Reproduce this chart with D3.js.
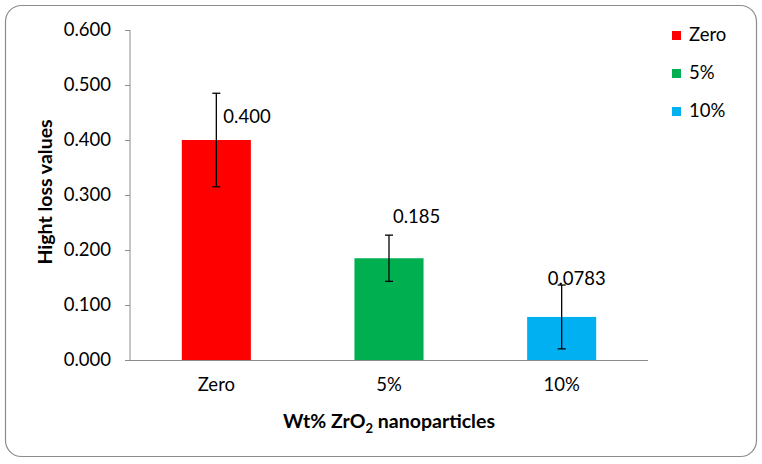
<!DOCTYPE html>
<html><head><meta charset="utf-8">
<script src="https://cdn.jsdelivr.net/npm/d3@7"></script>
<style>body{margin:0;background:#fff}svg{display:block}</style>
</head><body>
<script>
const categories = ["Zero", "5%", "10%"];
const values = [0.400, 0.185, 0.0783];
const errors = [0.085, 0.042, 0.058];
const labels = ["0.400", "0.185", "0.0783"];
const colors = ["#FF0000", "#00B050", "#00B0F0"];
const yTicks = [0, 0.1, 0.2, 0.3, 0.4, 0.5, 0.6];

const W = 762, H = 464;
const font = "Lato, 'Open Sans', sans-serif";
const fs = 18.5;
const svg = d3.select("body").append("svg").attr("width", W).attr("height", H);

svg.append("rect").attr("x", 5.5).attr("y", 5.5).attr("width", 751).attr("height", 451)
  .attr("rx", 16).attr("fill", "#fff").attr("stroke", "#8c8c8c").attr("stroke-width", 1.2);

const x = d3.scaleBand().domain(categories).range([130, 648]).paddingInner(0.6).paddingOuter(0.3);
const y = d3.scaleLinear().domain([0, 0.6]).range([360, 30]);

const yAxis = svg.append("g").attr("transform", "translate(130,0)")
  .call(d3.axisLeft(y).tickValues(yTicks).tickFormat(d3.format(".3f")).tickSize(5).tickPadding(14));
yAxis.select(".domain").attr("stroke", "#8c8c8c").attr("d", "M0,30V360");
yAxis.selectAll(".tick line").attr("stroke", "#8c8c8c");
yAxis.selectAll("text").attr("font-family", font).attr("font-size", fs).attr("fill", "#000");

// bars
svg.selectAll(".bar").data(categories).enter().append("rect")
  .attr("x", d => x(d)).attr("width", x.bandwidth())
  .attr("y", (d, i) => y(values[i])).attr("height", (d, i) => y(0) - y(values[i]))
  .attr("fill", (d, i) => colors[i]);

// x axis
const xAxis = svg.append("g").attr("transform", "translate(0,360)")
  .call(d3.axisBottom(x).tickSize(0).tickPadding(18));
xAxis.select(".domain").attr("stroke", "#8c8c8c").attr("d", "M130,0.5H648");
xAxis.selectAll("text").attr("font-family", font).attr("font-size", fs).attr("fill", "#000");

// error bars
const eb = svg.selectAll(".eb").data(categories).enter().append("g")
  .attr("stroke", "#000").attr("stroke-width", 1.3);
eb.append("line").attr("x1", d => x(d) + x.bandwidth() / 2).attr("x2", d => x(d) + x.bandwidth() / 2)
  .attr("y1", (d, i) => y(values[i] + errors[i])).attr("y2", (d, i) => y(values[i] - errors[i]));
eb.append("line").attr("x1", d => x(d) + x.bandwidth() / 2 - 4).attr("x2", d => x(d) + x.bandwidth() / 2 + 4)
  .attr("y1", (d, i) => y(values[i] + errors[i])).attr("y2", (d, i) => y(values[i] + errors[i]));
eb.append("line").attr("x1", d => x(d) + x.bandwidth() / 2 - 4).attr("x2", d => x(d) + x.bandwidth() / 2 + 4)
  .attr("y1", (d, i) => y(values[i] - errors[i])).attr("y2", (d, i) => y(values[i] - errors[i]));

// value labels
const lblOff = [[7, -17], [4, -35], [-14, -32]];
svg.selectAll(".vl").data(categories).enter().append("text")
  .attr("x", (d, i) => x(d) + x.bandwidth() / 2 + lblOff[i][0])
  .attr("y", (d, i) => y(values[i]) + lblOff[i][1])
  .attr("font-family", font).attr("font-size", fs).attr("fill", "#000")
  .text((d, i) => labels[i]);

// axis titles
svg.append("text").attr("transform", "translate(52,192) rotate(-90)")
  .attr("text-anchor", "middle").attr("font-family", font).attr("font-size", 19.5)
  .attr("font-weight", "bold").text("Hight loss values");

const xt = svg.append("text").attr("x", 389).attr("y", 428).attr("text-anchor", "middle")
  .attr("font-family", font).attr("font-size", 19.5).attr("font-weight", "bold");
xt.append("tspan").text("Wt% ZrO");
xt.append("tspan").attr("dy", 5).attr("font-size", 13).text("2");
xt.append("tspan").attr("dy", -5).text(" nanoparticles");

// legend
const lg = svg.selectAll(".lg").data(categories).enter().append("g")
  .attr("transform", (d, i) => `translate(672,${31 + i * 38})`);
lg.append("rect").attr("width", 9).attr("height", 9).attr("fill", (d, i) => colors[i]);
lg.append("text").attr("x", 17).attr("y", 10).attr("font-family", font).attr("font-size", fs)
  .attr("fill", "#000").text(d => d);
</script>
</body></html>
